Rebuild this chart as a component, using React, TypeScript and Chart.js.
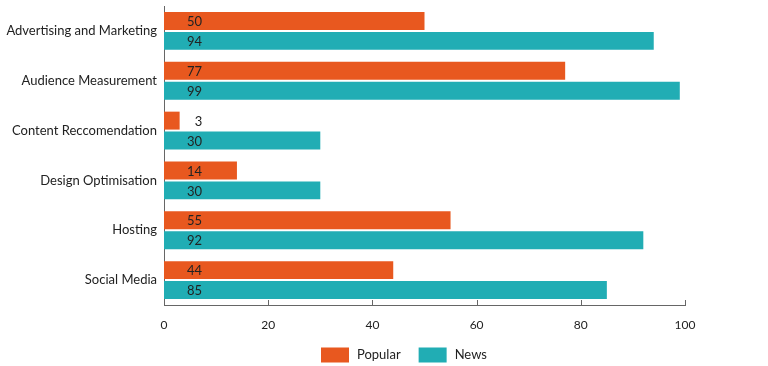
import React, { useEffect, useRef } from "react";
import { Chart, registerables } from "chart.js";

Chart.register(...registerables);

const categories = [
  "Advertising and Marketing",
  "Audience Measurement",
  "Content Reccomendation",
  "Design Optimisation",
  "Hosting",
  "Social Media",
];
const popularValues = [50, 77, 3, 14, 55, 44];
const newsValues = [94, 99, 30, 30, 92, 85];
const xTicks = [0, 20, 40, 60, 80, 100];

const ORANGE = "#E8581F";
const TEAL = "#21ADB4";
const FONT = "Lato, 'Open Sans', sans-serif";

const labelPlugin = {
  id: "valueLabels",
  afterDatasetsDraw(chart: any) {
    const ctx = chart.ctx;
    ctx.save();
    ctx.font = `13px ${FONT}`;
    ctx.fillStyle = "#222";
    ctx.textBaseline = "middle";
    ctx.textAlign = "left";
    chart.data.datasets.forEach((ds: any, di: number) => {
      const meta = chart.getDatasetMeta(di);
      meta.data.forEach((el: any, i: number) => {
        const v = ds.data[i];
        const len = el.x - el.base;
        const x = len < 28 ? el.x + 15 : el.base + 23;
        ctx.fillText(String(v), x, el.y + 1);
      });
    });
    ctx.restore();
  },
};

const tickMarkPlugin = {
  id: "innerTicks",
  afterDraw(chart: any) {
    const ctx = chart.ctx;
    const xs = chart.scales.x;
    const bottom = chart.chartArea.bottom;
    ctx.save();
    ctx.strokeStyle = "#666";
    ctx.lineWidth = 1;
    xTicks.forEach((t) => {
      if (t === 0) return;
      const px = Math.round(xs.getPixelForValue(t)) + 0.5;
      ctx.beginPath();
      ctx.moveTo(px, bottom - 5);
      ctx.lineTo(px, bottom);
      ctx.stroke();
    });
    ctx.restore();
  },
};

const legendPlugin = {
  id: "customLegend",
  afterDraw(chart: any) {
    const ctx = chart.ctx;
    ctx.save();
    ctx.font = `13px ${FONT}`;
    ctx.textBaseline = "middle";
    ctx.textAlign = "left";
    const boxW = 28;
    const boxH = 15;
    const gapText = 8;
    const gapItem = 18;
    let x = 321;
    const cy = 355;
    chart.data.datasets.forEach((ds: any) => {
      ctx.fillStyle = ds.backgroundColor;
      ctx.fillRect(x, cy - boxH / 2, boxW, boxH);
      ctx.fillStyle = "#222";
      ctx.fillText(ds.label, x + boxW + gapText, cy);
      x += boxW + gapText + ctx.measureText(ds.label).width + gapItem;
    });
    ctx.restore();
  },
};

export default function App() {
  const ref = useRef<HTMLCanvasElement>(null);
  useEffect(() => {
    document.body.style.margin = "0";
    const chart = new Chart(ref.current!, {
      type: "bar",
      data: {
        labels: categories,
        datasets: [
          {
            label: "Popular",
            data: popularValues,
            backgroundColor: ORANGE,
            categoryPercentage: 0.8,
            barPercentage: 0.9,
          },
          {
            label: "News",
            data: newsValues,
            backgroundColor: TEAL,
            categoryPercentage: 0.8,
            barPercentage: 0.9,
          },
        ],
      },
      options: {
        indexAxis: "y",
        animation: false,
        responsive: false,
        maintainAspectRatio: false,
        layout: { padding: { top: 6, right: 83, left: 0, bottom: 31 } },
        plugins: {
          tooltip: { enabled: false },
          legend: { display: false },
        },
        scales: {
          x: {
            min: 0,
            max: 100,
            ticks: {
              stepSize: 20,
              padding: 13,
              color: "#222",
              font: { family: FONT, size: 12 },
            },
            grid: { display: false, drawTicks: false },
            border: { display: true, color: "#666", width: 1 },
            afterFit: (s: any) => {
              s.height = 30;
              s.paddingLeft = 0;
              s.paddingRight = 0;
            },
          },
          y: {
            ticks: {
              padding: 7,
              color: "#222",
              font: { family: FONT, size: 13 },
            },
            grid: { display: false, drawTicks: false },
            border: { display: true, color: "#666", width: 1 },
            afterFit: (s: any) => {
              s.width = 164;
              s.paddingTop = 0;
              s.paddingBottom = 0;
            },
          },
        },
      },
      plugins: [labelPlugin, tickMarkPlugin, legendPlugin],
    });
    return () => chart.destroy();
  }, []);
  return (
    <div style={{ width: 768, height: 366 }}>
      <canvas ref={ref} width={768} height={366} />
    </div>
  );
}
